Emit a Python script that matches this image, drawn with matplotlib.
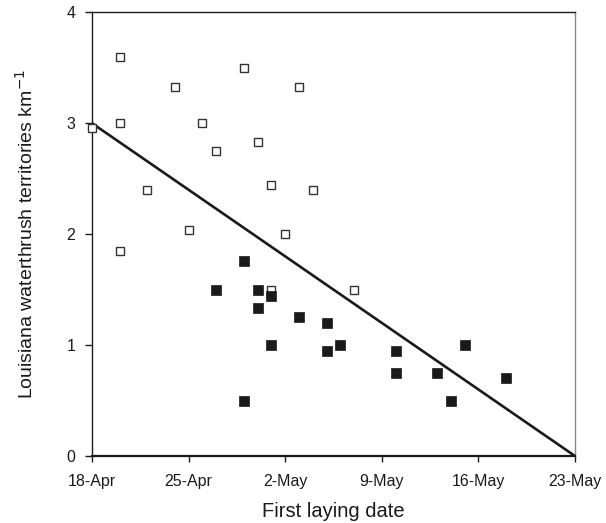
import matplotlib
matplotlib.use('Agg')
import matplotlib.pyplot as plt
import numpy as np

plt.rcParams['font.family'] = ['Liberation Sans', 'DejaVu Sans']

# days after 18 April
open_days = [2, 11, 6, 15, 2, 8, 0, 12, 9, 4, 13, 16, 7, 14, 2, 13, 19]
open_dens = [3.6, 3.5, 3.33, 3.33, 3.0, 3.0, 2.96, 2.83, 2.75, 2.4, 2.44, 2.4,
             2.04, 2.0, 1.85, 1.5, 1.5]

filled_days = [11, 9, 12, 13, 12, 15, 17, 13, 18, 17, 11, 22, 22, 27, 25, 26, 30]
filled_dens = [1.76, 1.5, 1.5, 1.44, 1.33, 1.25, 1.2, 1.0, 1.0, 0.95, 0.5,
               0.95, 0.75, 1.0, 0.75, 0.5, 0.7]

fit_days = [0, 35]
fit_dens = [3.0, 0.0]

tick_days = [0, 7, 14, 21, 28, 35]
tick_labels = ['18-Apr', '25-Apr', '2-May', '9-May', '16-May', '23-May']

fig = plt.figure(figsize=(6.06, 5.23), dpi=100)
ax = fig.add_axes([0.1518, 0.1281, 0.797, 0.8484])

ax.plot(fit_days, fit_dens, color='#1a1a1a', lw=1.9, zorder=2)
ax.plot(open_days, open_dens, 's', ms=6.3, mfc='white', mec='#333333',
        mew=1.0, zorder=3, clip_on=False)
ax.plot(filled_days, filled_dens, 's', ms=7.4, mfc='#1a1a1a', mec='#1a1a1a',
        mew=0.5, zorder=4)

ax.set_xlim(0, 35)
ax.set_ylim(0, 4)
ax.set_xticks(tick_days)
ax.set_xticklabels(tick_labels)
ax.set_yticks([0, 1, 2, 3, 4])

ax.tick_params(axis='x', direction='out', length=4, width=1, pad=9,
               labelsize=11.5, colors='#1a1a1a')
ax.tick_params(axis='y', direction='out', length=5, width=1, pad=7,
               labelsize=11.5, colors='#1a1a1a')

for side in ['left', 'top']:
    ax.spines[side].set_linewidth(1.0)
    ax.spines[side].set_color('#1a1a1a')
ax.spines['bottom'].set_linewidth(1.6)
ax.spines['bottom'].set_color('#1a1a1a')
ax.spines['right'].set_linewidth(1.0)
ax.spines['right'].set_color('#888888')

ax.set_xlabel('First laying date', fontsize=14.5, labelpad=9, color='#1a1a1a')
ax.set_ylabel('Louisiana waterthrush territories km$^{-1}$', fontsize=14,
              labelpad=21, color='#1a1a1a')

fig.savefig('out.png', dpi=100)
